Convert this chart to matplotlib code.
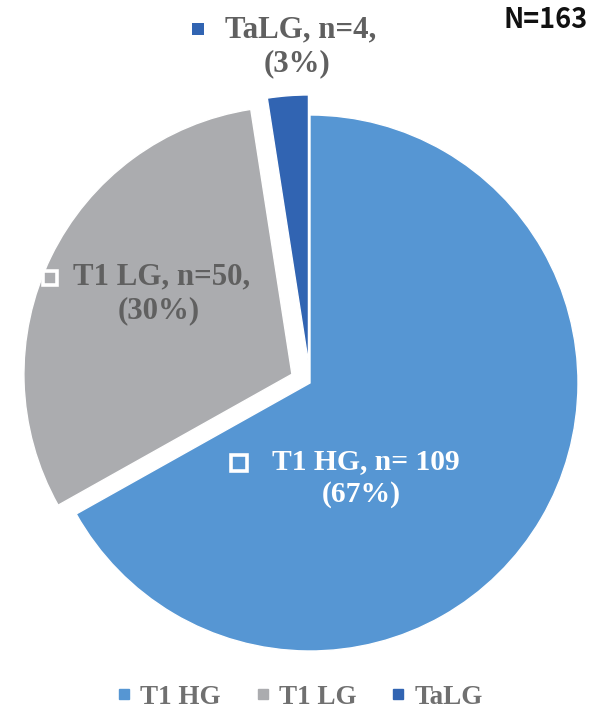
import matplotlib
matplotlib.use("Agg")
import matplotlib.pyplot as plt
from matplotlib.lines import Line2D

categories = ["T1 HG", "T1 LG", "TaLG"]
counts = [109, 50, 4]
percents = [67, 30, 3]
total_n = 163
colors = ["#5696D3", "#ABACAF", "#3164B2"]
explode = [0.0, 0.075, 0.075]

W, H = 600, 716
CX, CY, R = 310, 383, 268  # pixel geometry of the pie

fig = plt.figure(figsize=(W / 100, H / 100), dpi=100)
ax = fig.add_axes([0, 0, 1, 1])

wedges, _ = ax.pie(counts, colors=colors, startangle=90, counterclock=False,
                   explode=explode, radius=1.0, center=(0, 0), frame=True,
                   wedgeprops=dict(edgecolor="white", linewidth=1.0))
ax.set_xlim(-CX / R, (W - CX) / R)
ax.set_ylim(-(H - CY) / R, CY / R)
ax.set_aspect("auto")
ax.axis("off")


def d(px, py):
    return ((px - CX) / R, (CY - py) / R)


serif = "Liberation Serif"
gray_txt = "#606060"

# T1 HG label (white, inside)
fs_hg = 21.3
ax.plot(*d(238.5, 462.5), marker="s", ms=11, mfc=colors[0], mec="white", mew=2.6)
ax.text(*d(366, 462), f"{categories[0]}, n= {counts[0]}", fontsize=fs_hg, family=serif,
        weight="bold", color="white", ha="center", va="center")
ax.text(*d(361, 494), f"({percents[0]}%)", fontsize=fs_hg, family=serif,
        weight="bold", color="white", ha="center", va="center")

# T1 LG label
fs = 22.2
ax.plot(*d(49.5, 277.5), marker="s", ms=10, mfc=colors[1], mec="white", mew=2.6)
ax.text(*d(162, 277), f"{categories[1]}, n={counts[1]},", fontsize=fs, family=serif,
        weight="bold", color=gray_txt, ha="center", va="center")
ax.text(*d(159, 311), f"({percents[1]}%)", fontsize=fs, family=serif,
        weight="bold", color=gray_txt, ha="center", va="center")

# TaLG label (outside, top)
ax.plot(*d(198, 28.5), marker="s", ms=9, mfc=colors[2], mec=colors[2], mew=0)
ax.text(*d(301, 30), f"{categories[2]}, n={counts[2]},", fontsize=fs, family=serif,
        weight="bold", color=gray_txt, ha="center", va="center")
ax.text(*d(297, 64), f"({percents[2]}%)", fontsize=fs, family=serif,
        weight="bold", color=gray_txt, ha="center", va="center")

# N label
fig.text(588 / W, 1 - 20 / H, f"N={total_n}", fontsize=19.5, family=["Noto Sans CJK KR", "DejaVu Sans"],
         weight="bold", color="#111111", ha="right", va="center")

# Legend
handles = [Line2D([], [], linestyle="none", marker="s", ms=7.5, mfc=c, mec=c)
           for c in colors]
leg = fig.legend(handles, categories, loc="center", bbox_to_anchor=(300 / W, 1 - 697 / H),
                 ncol=3, frameon=False, handlelength=0.5, handletextpad=0.35,
                 columnspacing=1.3, prop=dict(family=serif, weight="bold", size=19.5))
for t in leg.get_texts():
    t.set_color("#707070")

fig.savefig("out.png", dpi=100)
